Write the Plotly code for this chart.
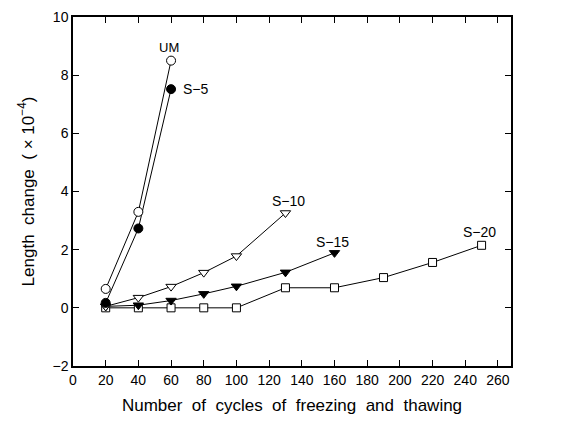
import plotly.graph_objects as go

# Freezing-thawing cycles and measured length change (x10^-4)
um_x = [20, 40, 60]
um_y = [0.65, 3.3, 8.5]

s5_x = [20, 40, 60]
s5_y = [0.17, 2.73, 7.52]

s10_x = [20, 40, 60, 80, 100, 130]
s10_y = [0.05, 0.35, 0.73, 1.21, 1.78, 3.26]

s15_x = [20, 40, 60, 80, 100, 130, 160]
s15_y = [0.05, 0.09, 0.25, 0.48, 0.74, 1.22, 1.89]

s20_x = [20, 40, 60, 80, 100, 130, 160, 190, 220, 250]
s20_y = [0.0, 0.0, 0.0, 0.0, 0.0, 0.69, 0.69, 1.04, 1.56, 2.15]

x_ticks = list(range(0, 261, 20))
y_ticks = [-2, 0, 2, 4, 6, 8, 10]

FONT = "Liberation Sans, Arial, sans-serif"
SP = " \u00a0"  # widened word spacing

series = [
    ("S-20", s20_x, s20_y, "square", "white", 8),
    ("S-15", s15_x, s15_y, "triangle-down", "black", 9),
    ("S-10", s10_x, s10_y, "triangle-down", "white", 9),
    ("S-5", s5_x, s5_y, "circle", "black", 9),
    ("UM", um_x, um_y, "circle", "white", 9),
]

fig = go.Figure()
for name, xs, ys, sym, fill, size in series:
    fig.add_trace(go.Scatter(
        x=xs, y=ys, mode="lines+markers", name=name,
        line=dict(color="black", width=1),
        marker=dict(symbol=sym, size=size, color=fill,
                    line=dict(color="black", width=1)),
        showlegend=False,
    ))

# Series labels placed next to the last point of each curve
labels = [
    ("UM", um_x[-1] - 1.5, um_y[-1] + 0.45, "center", 13),
    ("S−5", s5_x[-1] + 6, s5_y[-1], "left", 14),
    ("S−10", s10_x[-1] + 2, s10_y[-1] + 0.42, "center", 14),
    ("S−15", s15_x[-1] - 1, s15_y[-1] + 0.39, "center", 14),
    ("S−20", s20_x[-1] - 1, s20_y[-1] + 0.45, "center", 14),
]
for text, x, y, anchor, size in labels:
    fig.add_annotation(x=x, y=y, text=text, showarrow=False,
                       xanchor=anchor, yanchor="middle",
                       font=dict(family=FONT, size=size, color="black"))

axis_common = dict(
    showgrid=False, zeroline=False, showline=True, linecolor="black",
    linewidth=1.5, mirror="ticks", ticks="inside", ticklen=6,
    tickcolor="black", tickwidth=1.2,
    tickfont=dict(family=FONT, size=14, color="black"),
)

x_title = SP.join("Number of cycles of freezing and thawing".split(" "))
y_title = ("Length" + SP + "change" + SP + "(" + "\u00a0×\u00a0"
           + "10<sup>−4</sup>)")

fig.update_xaxes(
    range=[0, 268], tickvals=x_ticks,
    title=dict(text=x_title,
               font=dict(family=FONT, size=17, color="black"), standoff=13),
    **axis_common,
)
fig.update_yaxes(
    range=[-2, 10], tickvals=y_ticks,
    title=dict(text=y_title,
               font=dict(family=FONT, size=17, color="black"), standoff=14),
    **axis_common,
)

fig.update_layout(
    width=564, height=422,
    margin=dict(l=73, r=53, t=9, b=56),
    paper_bgcolor="white", plot_bgcolor="white",
)

fig.write_html("out.html")
